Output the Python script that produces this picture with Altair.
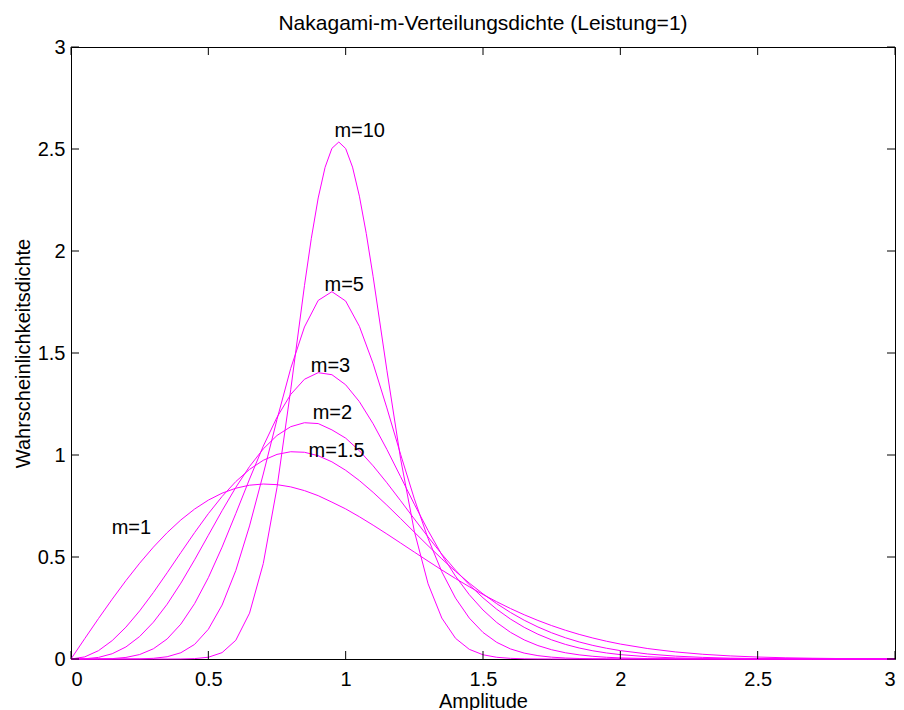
import altair as alt
import pandas as pd

# Amplitude grid (shared by m = 1 ... 5)
amplitude = [0.0, 0.05, 0.1, 0.15, 0.2, 0.25, 0.3, 0.35, 0.4, 0.45, 0.5, 0.55, 0.6, 0.65,
             0.7, 0.75, 0.8, 0.85, 0.9, 0.95, 1.0, 1.05, 1.1, 1.15, 1.2, 1.25, 1.3, 1.35,
             1.4, 1.45, 1.5, 1.55, 1.6, 1.65, 1.7, 1.75, 1.8, 1.85, 1.9, 1.95, 2.0,
             2.1, 2.2, 2.3, 2.4, 2.5, 2.6, 2.7, 2.8, 2.9, 3.0]

dens_m1 = [0, 0.0998, 0.1980, 0.2933, 0.3843, 0.4697, 0.5484, 0.6193, 0.6817, 0.7350,
           0.7788, 0.8129, 0.8372, 0.8520, 0.8577, 0.8547, 0.8437, 0.8254, 0.8007, 0.7689,
           0.7358, 0.6973, 0.6560, 0.6129, 0.5686, 0.5240, 0.4798, 0.4364, 0.3944, 0.3542,
           0.3162, 0.2805, 0.2474, 0.2169, 0.1890, 0.1637, 0.1410, 0.1207, 0.1028, 0.0870,
           0.0733, 0.0511, 0.0348, 0.0232, 0.0151, 0.0097, 0.0060, 0.0037, 0.0022, 0.0013, 0.0007]

dens_m15 = [0, 0.0103, 0.0408, 0.0902, 0.1562, 0.2359, 0.3260, 0.4226, 0.5218, 0.6196,
            0.7124, 0.7967, 0.8698, 0.9294, 0.9741, 1.0030, 1.0160, 1.0134, 0.9964, 0.9664,
            0.9251, 0.8746, 0.8169, 0.7542, 0.6885, 0.6217, 0.5554, 0.4910, 0.4296, 0.3721,
            0.3192, 0.2711, 0.2281, 0.1901, 0.1570, 0.1284, 0.1041, 0.0836, 0.0666, 0.0526,
            0.0411, 0.0245, 0.0141, 0.0079, 0.0042, 0.0022, 0.0011, 0.0005, 0.0003, 0.0001, 0.0001]

dens_m2 = [0, 0.0010, 0.0078, 0.0258, 0.0591, 0.1103, 0.1804, 0.2685, 0.3718, 0.4862,
           0.6065, 0.7268, 0.8411, 0.9437, 1.0299, 1.0957, 1.1388, 1.1582, 1.1541, 1.1231,
           1.0827, 1.0210, 0.9468, 0.8639, 0.7760, 0.6865, 0.5984, 0.5141, 0.4356, 0.3639,
           0.2999, 0.2439, 0.1958, 0.1552, 0.1214, 0.0938, 0.0716, 0.0539, 0.0402, 0.0295,
           0.0215, 0.0109, 0.0053, 0.0025, 0.0011, 0.0005, 0.0002, 0.0001, 0, 0, 0]

dens_m3 = [0, 0, 0.0003, 0.0019, 0.0077, 0.0219, 0.0501, 0.0982, 0.1711, 0.2714,
           0.3986, 0.5483, 0.7130, 0.8820, 1.0434, 1.1852, 1.2971, 1.3713, 1.4036, 1.3936,
           1.3442, 1.2614, 1.1530, 1.0275, 0.8935, 0.7589, 0.6298, 0.5111, 0.4058, 0.3154,
           0.2401, 0.1790, 0.1308, 0.0937, 0.0658, 0.0453, 0.0306, 0.0203, 0.0132, 0.0085,
           0.0053, 0.0020, 0.0007, 0.0002, 0.0001, 0, 0, 0, 0, 0, 0]

dens_m5 = [0, 0, 0, 0, 0.0001, 0.0007, 0.0033, 0.0111, 0.0307, 0.0716,
           0.1457, 0.2643, 0.4338, 0.6523, 0.9068, 1.1743, 1.4247, 1.6276, 1.7577, 1.8006,
           1.7547, 1.6305, 1.4479, 1.2308, 1.0032, 0.7851, 0.5907, 0.4277, 0.2984, 0.2007,
           0.1302, 0.0816, 0.0494, 0.0289, 0.0164, 0.0090, 0.0048, 0.0024, 0.0012, 0.0006,
           0.0003, 0.0001, 0, 0, 0, 0, 0, 0, 0, 0, 0]

# m = 10 is read on a finer grid around its narrow peak
amplitude_m10 = [0.0, 0.1, 0.2, 0.3, 0.35, 0.4, 0.45, 0.5, 0.55, 0.6, 0.65, 0.7, 0.75, 0.8,
                 0.85, 0.875, 0.9, 0.925, 0.95, 0.975, 1.0, 1.025, 1.05, 1.075, 1.1, 1.15,
                 1.2, 1.25, 1.3, 1.35, 1.4, 1.45, 1.5, 1.55, 1.6, 1.65, 1.7, 1.75, 1.8, 1.9,
                 2.0, 2.5, 3.0]
dens_m10 = [0, 0, 0, 0, 0.0000, 0.0003, 0.0019, 0.0086, 0.0312, 0.0918, 0.2248, 0.4678,
            0.8405, 1.3198, 1.8300, 2.0623, 2.2599, 2.4101, 2.5033, 2.5343, 2.5023, 2.4111,
            2.2687, 2.0856, 1.8740, 1.4158, 0.9815, 0.6262, 0.3687, 0.2007, 0.1013, 0.0474,
            0.0207, 0.0084, 0.0032, 0.0011, 0.0004, 0.0001, 0.0000, 0, 0, 0, 0]

# curve labels (text start, baseline) in data units
label_text = ["m=10", "m=5", "m=3", "m=2", "m=1.5", "m=1"]
label_x = [0.959, 0.923, 0.873, 0.880, 0.865, 0.148]
label_y = [2.559, 1.804, 1.407, 1.176, 0.990, 0.613]

tick_values = [0, 0.5, 1, 1.5, 2, 2.5, 3]

TITLE = "Nakagami-m-Verteilungsdichte (Leistung=1)"
X_TITLE = "Amplitude"
Y_TITLE = "Wahrscheinlichkeitsdichte"

FONT = "Liberation Sans"
W, H = 824, 612
MAGENTA = "#ff00ff"

rows = []
for name, xs, ys in [("1", amplitude, dens_m1), ("1.5", amplitude, dens_m15),
                     ("2", amplitude, dens_m2), ("3", amplitude, dens_m3),
                     ("5", amplitude, dens_m5), ("10", amplitude_m10, dens_m10)]:
    for xv, yv in zip(xs, ys):
        rows.append({"m": name, "a": xv, "p": yv})
curves = pd.DataFrame(rows)
labels = pd.DataFrame({"t": label_text, "a": label_x, "p": label_y})
ticks = pd.DataFrame({"v": tick_values})

xscale = alt.Scale(domain=[0, 3], nice=False, zero=False)
yscale = alt.Scale(domain=[0, 3], nice=False, zero=False)

lines = alt.Chart(curves).mark_line(color=MAGENTA, strokeWidth=1).encode(
    x=alt.X("a:Q", scale=xscale, title=X_TITLE,
            axis=alt.Axis(values=tick_values, format="~g", labelPadding=10,
                          titleBaseline="alphabetic", titleY=48)),
    y=alt.Y("p:Q", scale=yscale, title=Y_TITLE,
            axis=alt.Axis(values=tick_values, format="~g", labelPadding=6,
                          titleBaseline="alphabetic", titleX=-41.5, titleAngle=270)),
    detail="m:N",
    order="a:Q",
)

texts = alt.Chart(labels).mark_text(
    font=FONT, fontSize=20, align="left", baseline="alphabetic", color="black"
).encode(
    x=alt.X("a:Q", scale=xscale),
    y=alt.Y("p:Q", scale=yscale),
    text="t:N",
)

tick_len = 8
bottom_ticks = alt.Chart(ticks).mark_rule(color="black", strokeWidth=1).encode(
    x=alt.X("v:Q", scale=xscale), y=alt.value(H), y2=alt.value(H - tick_len))
top_ticks = alt.Chart(ticks).mark_rule(color="black", strokeWidth=1).encode(
    x=alt.X("v:Q", scale=xscale), y=alt.value(0), y2=alt.value(tick_len))
left_ticks = alt.Chart(ticks).mark_rule(color="black", strokeWidth=1).encode(
    y=alt.Y("v:Q", scale=yscale), x=alt.value(0), x2=alt.value(tick_len))
right_ticks = alt.Chart(ticks).mark_rule(color="black", strokeWidth=1).encode(
    y=alt.Y("v:Q", scale=yscale), x=alt.value(W), x2=alt.value(W - tick_len))

chart = alt.layer(
    lines, bottom_ticks, top_ticks, left_ticks, right_ticks, texts
).properties(
    width=W,
    height=H,
    background="white",
    title=alt.TitleParams(TITLE, font=FONT, fontSize=21, fontWeight="normal",
                          color="black", anchor="middle", offset=3),
    autosize=alt.AutoSizeParams(type="none"),
    padding={"left": 63, "top": 39, "right": 1, "bottom": 51},
).configure_view(
    stroke="#000000", strokeWidth=1
).configure_axis(
    grid=False, domain=False, ticks=False,
    labelFont=FONT, labelFontSize=20, labelColor="black",
    titleFont=FONT, titleFontSize=20, titleFontWeight="normal", titleColor="black",
)

chart.save("out.html", embed_options={"renderer": "svg", "actions": False})
